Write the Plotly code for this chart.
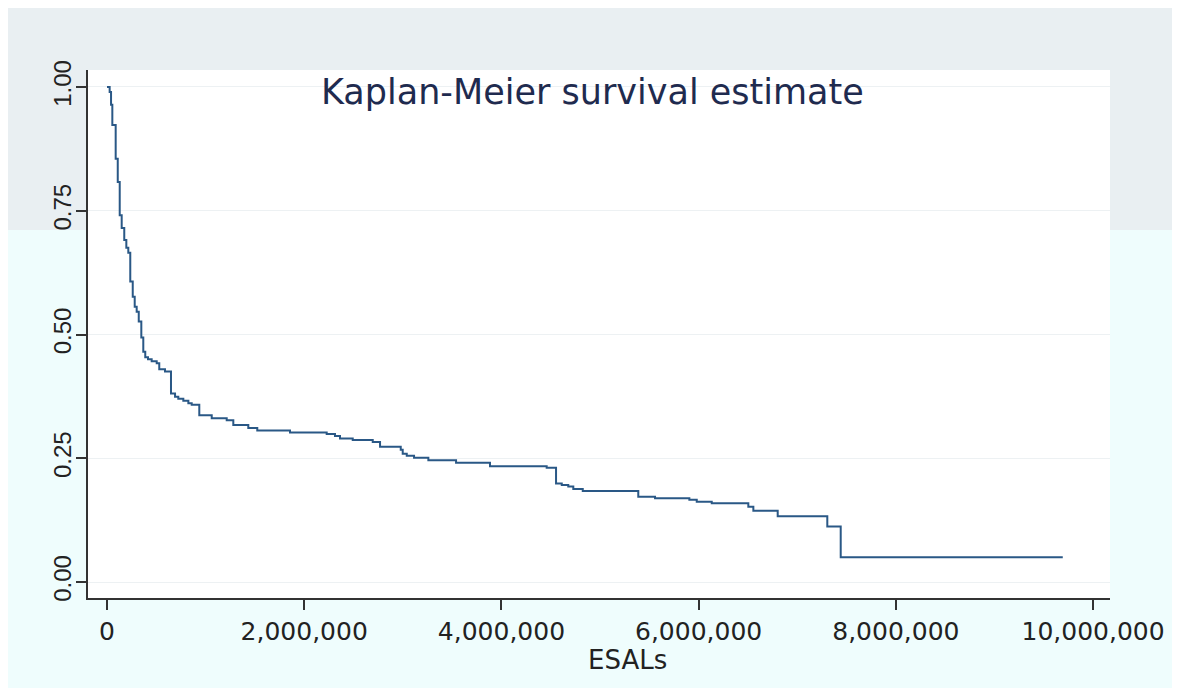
import plotly.graph_objects as go

# Kaplan-Meier step points (ESALs, survival)
esals = [0, 27000, 41000, 54000, 88000, 109000, 129000, 149000, 175000, 196000,
         216000, 236000, 261000, 281000, 301000, 322000, 348000, 368000, 388000, 416000,
         453000, 504000, 530000, 588000, 649000, 690000, 723000, 774000, 825000, 859000,
         936000, 1062000, 1214000, 1281000, 1433000, 1524000, 1856000, 2228000, 2312000, 2363000,
         2492000, 2695000, 2769000, 2979000, 2999000, 3040000, 3114000, 3259000, 3540000, 3884000,
         4459000, 4554000, 4612000, 4678000, 4729000, 4825000, 5388000, 5558000, 5906000, 5981000,
         6133000, 6504000, 6555000, 6802000, 7305000, 7441000, 9693000]
survival = [1.000, 0.990, 0.964, 0.923, 0.855, 0.808, 0.741, 0.715, 0.691, 0.675,
            0.665, 0.607, 0.576, 0.556, 0.546, 0.526, 0.494, 0.465, 0.454, 0.450,
            0.446, 0.442, 0.430, 0.425, 0.381, 0.374, 0.370, 0.366, 0.361, 0.358,
            0.337, 0.331, 0.327, 0.317, 0.311, 0.306, 0.302, 0.299, 0.295, 0.290,
            0.287, 0.283, 0.273, 0.267, 0.259, 0.255, 0.251, 0.246, 0.241, 0.234,
            0.231, 0.199, 0.196, 0.193, 0.188, 0.184, 0.172, 0.169, 0.166, 0.162,
            0.159, 0.152, 0.144, 0.133, 0.112, 0.050, 0.050]

x_ticks = [0, 2000000, 4000000, 6000000, 8000000, 10000000]
x_labels = ["0", "2,000,000", "4,000,000", "6,000,000", "8,000,000", "10,000,000"]
y_ticks = [0, 0.25, 0.5, 0.75, 1.0]
y_labels = ["0.00", "0.25", "0.50", "0.75", "1.00"]

# the page body has an 8px margin, so the figure sits 8px in from the window edge
OFF = 8
W, H = 1180 - OFF, 688 - OFF
L, R, T = 88 - OFF, 1180 - 1110, 70 - OFF
B = H - (598 - OFF)
pw, ph = W - L - R, H - T - B


def px_x(p):
    return (p - OFF - L) / pw


def px_y(p):
    return (H - B - (p - OFF)) / ph


fig = go.Figure()
fig.add_trace(go.Scatter(x=esals, y=survival, mode="lines", line_shape="hv",
                         line=dict(color="#2a5886", width=2), showlegend=False))

shapes = [
    # grey top band and cyan lower band of the backdrop
    dict(type="rect", xref="paper", yref="paper", x0=px_x(4), x1=px_x(1190),
         y0=px_y(230), y1=px_y(5), fillcolor="#e9eff2", line_width=0, layer="below"),
    dict(type="rect", xref="paper", yref="paper", x0=px_x(4), x1=px_x(1190),
         y0=px_y(700), y1=px_y(230), fillcolor="#effdfd", line_width=0, layer="below"),
    # white plot region
    dict(type="rect", xref="paper", yref="paper", x0=0, x1=1, y0=0, y1=1,
         fillcolor="white", line_width=0, layer="below"),
]

fig.update_layout(
    width=W, height=H,
    margin=dict(l=L, r=R, t=T, b=B),
    paper_bgcolor="white",
    plot_bgcolor="white",
    font=dict(family="DejaVu Sans", color="#222222"),
    shapes=shapes,
    annotations=[
        dict(text="Kaplan-Meier survival estimate", xref="paper", yref="paper",
             x=px_x(592), y=px_y(92), xanchor="center", yanchor="middle",
             showarrow=False, font=dict(size=35, color="#1f2b4f")),
        dict(text="ESALs", xref="paper", yref="paper",
             x=px_x(627), y=px_y(660), xanchor="center", yanchor="middle",
             showarrow=False, font=dict(size=26, color="#222222")),
    ],
)

fig.update_xaxes(
    range=[-192700, 10172000], tickvals=x_ticks, ticktext=x_labels,
    showline=True, linecolor="#333333", linewidth=1.5,
    ticks="outside", ticklen=10, tickwidth=1.5, tickcolor="#333333",
    tickfont=dict(size=25, family="DejaVu Sans"),
    showgrid=False, zeroline=False,
)
fig.update_yaxes(
    range=[-0.0323, 1.0343], tickvals=y_ticks, ticktext=y_labels, tickangle=-90,
    showline=True, linecolor="#333333", linewidth=1.5,
    ticks="outside", ticklen=10, tickwidth=1.5, tickcolor="#333333",
    tickfont=dict(size=24, family="Liberation Sans"), ticklabelstandoff=-4,
    showgrid=True, gridcolor="#edf1f3", gridwidth=1, zeroline=False,
)

fig.write_html("out.html")
